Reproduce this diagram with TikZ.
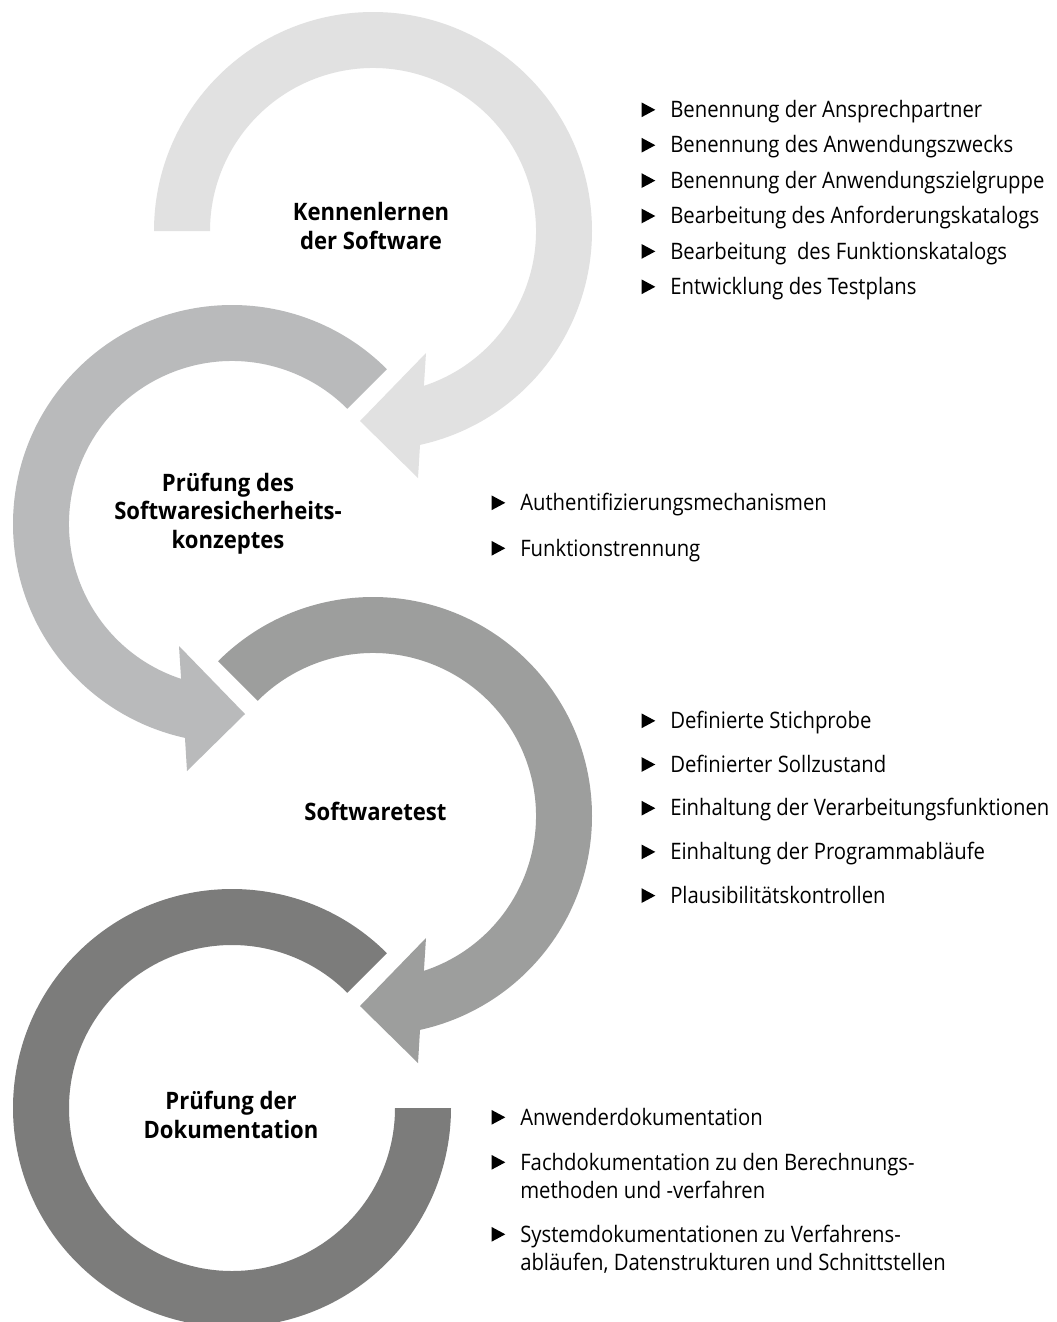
\documentclass[tikz,border=0pt]{standalone}
\usepackage{fontspec}
\setmainfont{Open Sans}
\newfontfamily\itemfont[FakeStretch=0.895]{Open Sans}
\newfontfamily\headfont[FakeStretch=0.92]{Open Sans}
\usetikzlibrary{calc}
\definecolor{ringA}{HTML}{E1E1E1}
\definecolor{ringB}{HTML}{B9BABB}
\definecolor{ringC}{HTML}{9D9E9D}
\definecolor{ringD}{HTML}{7C7C7B}
\tikzset{
  itemtext/.style={anchor=base west, inner sep=0pt, align=left, text=black,
    font=\itemfont\fontsize{17}{21.3}\selectfont},
  headtext/.style={anchor=base, inner sep=0pt, align=center, text=black,
    font=\headfont\bfseries\fontsize{18}{21.4}\selectfont},
  bullettip/.style={fill=black},
}
% #1 name, #2 position (baseline of last line), #3 text, #4 vertical offset of first line
\newcommand\bitem[4]{%
  \node[itemtext] (#1) at (#2) {#3};
  \fill[bullettip] ($(#1.base west)+(-28.5,#4+0.3)$) -- ++(0,14.8) -- ++(13.8,-7.4) -- cycle;}
\begin{document}
\begin{tikzpicture}[x=0.75pt,y=0.75pt]
\useasboundingbox (0,0) rectangle (1057,-1322);
\fill[white] (0,0) rectangle (1057,-1322);
% ring 1
\begin{scope}[shift={(373,-231)}]
\fill[ringA] (180:219) arc[start angle=180, end angle=-77.6, radius=219]
  -- (45,-247) -- (-13,-190) -- (53,-122) -- (-71.8:163)
  arc[start angle=-71.8, end angle=180, radius=163] -- cycle;
\end{scope}
% ring 2
\begin{scope}[shift={(232,-524)}]
\fill[ringB] (45:219) arc[start angle=45, end angle=257.6, radius=219]
  -- (-45,-247) -- (13,-190) -- (-53,-122) -- (251.8:163)
  arc[start angle=251.8, end angle=45, radius=163] -- cycle;
\end{scope}
% ring 3
\begin{scope}[shift={(373,-816)}]
\fill[ringC] (135:219) arc[start angle=135, end angle=-77.6, radius=219]
  -- (45,-247) -- (-13,-190) -- (53,-122) -- (-71.8:163)
  arc[start angle=-71.8, end angle=135, radius=163] -- cycle;
\end{scope}
% ring 4
\begin{scope}[shift={(232,-1108)}]
\fill[ringD] (45:219) arc[start angle=45, end angle=360, radius=219]
  -- (0:163) arc[start angle=360, end angle=45, radius=163] -- cycle;
\end{scope}
% headings (positioned at baseline of last line)
\node[headtext] (h1) at (371,-249.5) {Kennenlernen\\der Software};
\node[headtext] (h2) at (228,-548.5) {Prüfung des\\Softwaresicherheits-\\konzeptes};
\node[headtext] (h3) at (375.5,-820) {Softwaretest};
\node[headtext] (h4) at (231,-1138.5) {Prüfung der\\Dokumentation};
% list 1
\bitem{a1}{670,-117.5}{Benennung der Ansprechpartner}{0}
\bitem{a2}{670,-152.9}{Benennung des Anwendungszwecks}{0}
\bitem{a3}{670,-188.3}{Benennung der Anwendungszielgruppe}{0}
\bitem{a4}{670,-223.7}{Bearbeitung des Anforderungskatalogs}{0}
\bitem{a5}{670,-259.1}{Bearbeitung~~des Funktionskatalogs}{0}
\bitem{a6}{670,-294.5}{Entwicklung des Testplans}{0}
% list 2
\bitem{b1}{520,-510.5}{Authentifizierungsmechanismen}{0}
\bitem{b2}{520,-556}{Funktionstrennung}{0}
% list 3
\bitem{c1}{670,-728.5}{Definierte Stichprobe}{0}
\bitem{c2}{670,-772.2}{Definierter Sollzustand}{0}
\bitem{c3}{670,-815.9}{Einhaltung der Verarbeitungsfunktionen}{0}
\bitem{c4}{670,-859.6}{Einhaltung der Programmabläufe}{0}
\bitem{c5}{670,-903.3}{Plausibilitätskontrollen}{0}
% list 4
\bitem{d1}{520,-1125}{Anwenderdokumentation}{0}
\bitem{d2}{520,-1198.4}{Fachdokumentation zu den Berechnungs-\\methoden und -verfahren}{28.4}
\bitem{d3}{520,-1270.4}{Systemdokumentationen zu Verfahrens-\\abläufen, Datenstrukturen und Schnittstellen}{28.4}
\end{tikzpicture}
\end{document}
